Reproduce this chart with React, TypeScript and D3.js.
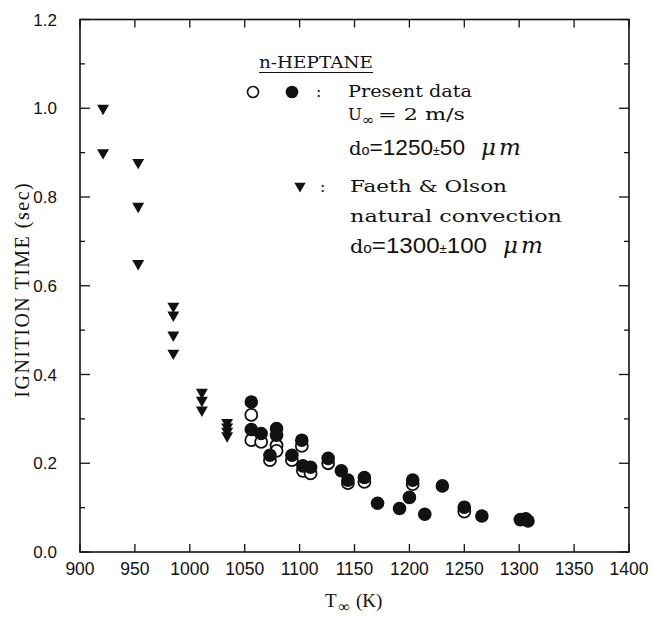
import React from "react";
import * as d3 from "d3";

const TRI_T = [921, 921, 953, 953, 953, 985, 985, 985, 985, 1011, 1011, 1011, 1034, 1034, 1034, 1034];
const TRI_S = [1.0, 0.9, 0.878, 0.779, 0.65, 0.554, 0.534, 0.489, 0.448, 0.36, 0.342, 0.32, 0.292, 0.282, 0.272, 0.262];

const FILLED_T = [1056, 1056, 1065, 1073, 1079, 1079, 1093, 1102, 1103, 1110, 1126, 1138, 1144, 1159, 1171, 1191, 1200, 1203, 1214, 1230, 1250, 1266, 1301, 1306, 1308];
const FILLED_S = [0.338, 0.276, 0.267, 0.218, 0.278, 0.263, 0.218, 0.252, 0.194, 0.191, 0.211, 0.183, 0.162, 0.168, 0.11, 0.098, 0.123, 0.162, 0.085, 0.149, 0.101, 0.081, 0.073, 0.075, 0.07];

const OPEN_T = [1056, 1056, 1065, 1073, 1079, 1079, 1093, 1102, 1103, 1110, 1126, 1144, 1159, 1203, 1250];
const OPEN_S = [0.309, 0.252, 0.248, 0.207, 0.24, 0.228, 0.207, 0.239, 0.183, 0.177, 0.2, 0.155, 0.158, 0.153, 0.091];

const X_TICKS = [900, 950, 1000, 1050, 1100, 1150, 1200, 1250, 1300, 1350, 1400];
const Y_TICKS = [0, 0.1, 0.2, 0.3, 0.4, 0.5, 0.6, 0.7, 0.8, 0.9, 1.0, 1.1, 1.2];

const W = 652;
const H = 620;
const L = 80, R = 629, T = 19.5, B = 552;

export default function App() {
  const x = d3.scaleLinear().domain([900, 1400]).range([L, R]);
  const y = d3.scaleLinear().domain([0, 1.2]).range([B, T]);
  const tri = d3.symbol().type(d3.symbolTriangle).size(62)() as string;
  const legTri = d3.symbol().type(d3.symbolTriangle).size(55)() as string;
  const ink = "#111";
  const sans = "'Liberation Sans', Arial, sans-serif";
  const serif = "'Liberation Serif', 'Times New Roman', serif";
  const slab = "'DejaVu Serif', serif";

  return (
    <svg width={W} height={H} style={{ position: "absolute", left: 0, top: 0, background: "#fff" }}>
      <rect x={0} y={0} width={W} height={H} fill="#fff" />
      {/* frame */}
      <rect x={L} y={T} width={R - L} height={B - T} fill="none" stroke={ink} strokeWidth={1.6} />
      {/* x ticks */}
      {X_TICKS.map((t) => (
        <g key={"xt" + t}>
          <line x1={x(t)} x2={x(t)} y1={B} y2={B - 8} stroke={ink} strokeWidth={1.3} />
          <line x1={x(t)} x2={x(t)} y1={T} y2={T + 8} stroke={ink} strokeWidth={1.3} />
          <text x={x(t)} y={575} textAnchor="middle" fontFamily={sans} fontSize={17.5} fill={ink}>
            {t}
          </text>
        </g>
      ))}
      {/* y ticks */}
      {Y_TICKS.map((v, i) => {
        const major = i % 2 === 0;
        const len = major ? 10 : 5;
        return (
          <g key={"yt" + i}>
            <line x1={L} x2={L + len} y1={y(v)} y2={y(v)} stroke={ink} strokeWidth={1.3} />
            <line x1={R} x2={R - len} y1={y(v)} y2={y(v)} stroke={ink} strokeWidth={1.3} />
            {major && (
              <text x={57} y={y(v)} dy="0.36em" textAnchor="end" fontFamily={sans} fontSize={17} fill={ink}>
                {v.toFixed(1)}
              </text>
            )}
          </g>
        );
      })}
      {/* axis titles */}
      <text
        transform={`translate(29,${(T + B) / 2 + 4}) rotate(-90)`}
        textAnchor="middle"
        fontFamily={serif}
        fontSize={20}
        letterSpacing={1.5}
        fill={ink}
      >
        IGNITION TIME (sec)
      </text>
      <text x={325} y={607} fontFamily={serif} fontSize={19} fill={ink}>
        T
        <tspan fontSize={16} dy={5} dx={2}>∞</tspan>
        <tspan dy={-5} dx={6}>(K)</tspan>
      </text>

      {/* data: triangles */}
      {TRI_T.map((t, i) => (
        <path key={"tr" + i} d={tri} transform={`translate(${x(t)},${y(TRI_S[i])}) rotate(180)`} fill={ink} />
      ))}
      {/* open circles */}
      {OPEN_T.map((t, i) => (
        <circle key={"oc" + i} cx={x(t)} cy={y(OPEN_S[i])} r={6} fill="#fff" stroke={ink} strokeWidth={1.8} />
      ))}
      {/* filled circles */}
      {FILLED_T.map((t, i) => (
        <circle key={"fc" + i} cx={x(t)} cy={y(FILLED_S[i])} r={6.8} fill={ink} />
      ))}

      {/* legend */}
      <text x={259} y={68} fontFamily={slab} fontSize={16} fill={ink} textLength={114} lengthAdjust="spacingAndGlyphs">
        n-HEPTANE
      </text>
      <line x1={259} x2={373} y1={72.5} y2={72.5} stroke={ink} strokeWidth={1.2} />
      <circle cx={253} cy={92} r={5.5} fill="#fff" stroke={ink} strokeWidth={1.6} />
      <circle cx={292} cy={92} r={6.3} fill={ink} />
      <text x={316} y={97} fontFamily={slab} fontSize={16} fill={ink}>:</text>
      <text x={348} y={97} fontFamily={slab} fontSize={16.5} fill={ink} textLength={124} lengthAdjust="spacingAndGlyphs">
        Present data
      </text>
      <text x={348} y={120} fontFamily={slab} fontSize={16.5} fill={ink}>U</text>
      <text x={362} y={125} fontFamily={slab} fontSize={15} fill={ink}>∞</text>
      <text x={378} y={120} fontFamily={slab} fontSize={16.5} fill={ink} textLength={87} lengthAdjust="spacingAndGlyphs">
        = 2 m/s
      </text>

      <text x={349} y={155} fontFamily={sans} fontSize={22} fill={ink} textLength={116} lengthAdjust="spacingAndGlyphs">
        <tspan fontFamily={slab} fontSize={19}>d</tspan>
        <tspan fontSize={14}>o</tspan>
        <tspan>=1250</tspan>
        <tspan fontSize={12}>±</tspan>
        <tspan>50</tspan>
      </text>
      <text x={481} y={155} fontFamily={slab} fontStyle="italic" fontSize={23} letterSpacing={3} fill={ink}>
        μm
      </text>

      <path d={legTri} transform="translate(300,186) rotate(180)" fill={ink} />
      <text x={320} y={192} fontFamily={slab} fontSize={16} fill={ink}>:</text>
      <text x={350} y={192} fontFamily={slab} fontSize={16.5} fill={ink} textLength={157} lengthAdjust="spacingAndGlyphs">
        Faeth &amp; Olson
      </text>
      <text x={350} y={222} fontFamily={slab} fontSize={16.5} fill={ink} textLength={212} lengthAdjust="spacingAndGlyphs">
        natural convection
      </text>

      <text x={350} y={253} fontFamily={sans} fontSize={22} fill={ink} textLength={137} lengthAdjust="spacingAndGlyphs">
        <tspan fontFamily={slab} fontSize={19}>d</tspan>
        <tspan fontSize={14}>o</tspan>
        <tspan>=1300</tspan>
        <tspan fontSize={12}>±</tspan>
        <tspan>100</tspan>
      </text>
      <text x={503} y={253} fontFamily={slab} fontStyle="italic" fontSize={23} letterSpacing={3} fill={ink}>
        μm
      </text>
    </svg>
  );
}
